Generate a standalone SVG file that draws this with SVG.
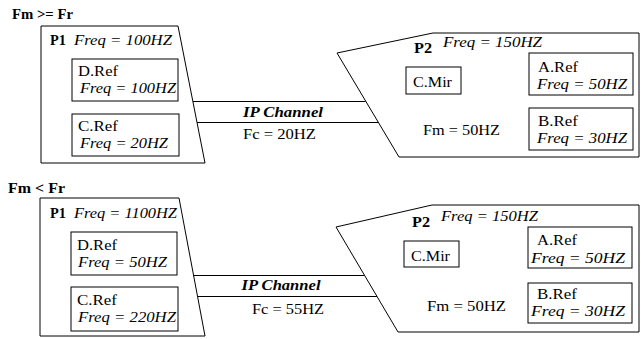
<svg xmlns="http://www.w3.org/2000/svg" width="641" height="339" viewBox="0 0 641 339">
<style>
text{font-family:"Liberation Serif","Times New Roman",serif;font-size:15px;fill:#000}
.b{font-weight:bold}
.i{font-style:italic}
.bi{font-weight:bold;font-style:italic}
.shape{fill:#fff;stroke:#000;stroke-width:1}
.box{fill:#fff;stroke:#000;stroke-width:1}
.ln{stroke:#000;stroke-width:1;fill:none}
</style>
<rect width="641" height="339" fill="#fff"/>

<!-- Top scenario -->
<text class="b" x="12" y="19" textLength="61" lengthAdjust="spacingAndGlyphs">Fm &gt;= Fr</text>

<g id="top-connectors">
  <line class="ln" x1="193" y1="101.5" x2="365.5" y2="101.5"/>
  <line class="ln" x1="197" y1="122.5" x2="378.5" y2="122.5"/>
  <text class="bi" x="283" y="117" text-anchor="middle" textLength="80" lengthAdjust="spacingAndGlyphs">IP Channel</text>
  <text x="243" y="139" textLength="73" lengthAdjust="spacingAndGlyphs">Fc = 20HZ</text>
</g>

<g id="top-P1">
  <polygon class="shape" points="41,26 178,26 205,163 41,163"/>
  <text class="b" x="50" y="45" textLength="16" lengthAdjust="spacingAndGlyphs">P1</text>
  <text class="i" x="74" y="45" textLength="98" lengthAdjust="spacingAndGlyphs">Freq = 100HZ</text>
</g>
<g id="top-DRef">
  <rect class="box" x="72" y="59" width="106" height="42"/>
  <text x="78" y="76" textLength="40" lengthAdjust="spacingAndGlyphs">D.Ref</text>
  <text class="i" x="80" y="93" textLength="96" lengthAdjust="spacingAndGlyphs">Freq = 100HZ</text>
</g>
<g id="top-CRef">
  <rect class="box" x="72" y="114" width="107" height="42"/>
  <text x="78" y="131" textLength="40" lengthAdjust="spacingAndGlyphs">C.Ref</text>
  <text class="i" x="80" y="148" textLength="88" lengthAdjust="spacingAndGlyphs">Freq = 20HZ</text>
</g>

<g id="top-P2">
  <polygon class="shape" points="337,53 433,33 639,33 639,157 399,157"/>
  <text class="b" x="414" y="53" textLength="18" lengthAdjust="spacingAndGlyphs">P2</text>
  <text class="i" x="443" y="47" textLength="99" lengthAdjust="spacingAndGlyphs">Freq = 150HZ</text>
  <text x="423" y="135" textLength="77" lengthAdjust="spacingAndGlyphs">Fm = 50HZ</text>
</g>
<g id="top-CMir">
  <rect class="box" x="406" y="67" width="55" height="27"/>
  <text x="413" y="87" textLength="39" lengthAdjust="spacingAndGlyphs">C.Mir</text>
</g>
<g id="top-ARef">
  <rect class="box" x="529" y="53" width="104" height="42"/>
  <text x="538" y="72" textLength="40" lengthAdjust="spacingAndGlyphs">A.Ref</text>
  <text class="i" x="537" y="89" textLength="90" lengthAdjust="spacingAndGlyphs">Freq = 50HZ</text>
</g>
<g id="top-BRef">
  <rect class="box" x="529" y="108" width="104" height="42"/>
  <text x="538" y="126" textLength="40" lengthAdjust="spacingAndGlyphs">B.Ref</text>
  <text class="i" x="537" y="143" textLength="90" lengthAdjust="spacingAndGlyphs">Freq = 30HZ</text>
</g>

<!-- Bottom scenario -->
<text class="b" x="8" y="193" textLength="57" lengthAdjust="spacingAndGlyphs">Fm &lt; Fr</text>

<g id="bottom-connectors">
  <line class="ln" x1="193.5" y1="275.5" x2="364.5" y2="275.5"/>
  <line class="ln" x1="197.5" y1="296.5" x2="377" y2="296.5"/>
  <text class="bi" x="281" y="290" text-anchor="middle" textLength="79" lengthAdjust="spacingAndGlyphs">IP Channel</text>
  <text x="252" y="314" textLength="72" lengthAdjust="spacingAndGlyphs">Fc = 55HZ</text>
</g>

<g id="bottom-P1">
  <polygon class="shape" points="40,198 179,198 205,336 40,336"/>
  <text class="b" x="50" y="218" textLength="16" lengthAdjust="spacingAndGlyphs">P1</text>
  <text class="i" x="74" y="218" textLength="103" lengthAdjust="spacingAndGlyphs">Freq = 1100HZ</text>
</g>
<g id="bottom-DRef">
  <rect class="box" x="71" y="232" width="106" height="43"/>
  <text x="77" y="250" textLength="40" lengthAdjust="spacingAndGlyphs">D.Ref</text>
  <text class="i" x="78" y="267" textLength="89" lengthAdjust="spacingAndGlyphs">Freq = 50HZ</text>
</g>
<g id="bottom-CRef">
  <rect class="box" x="71" y="287" width="107" height="44"/>
  <text x="77" y="305" textLength="40" lengthAdjust="spacingAndGlyphs">C.Ref</text>
  <text class="i" x="78" y="322" textLength="98" lengthAdjust="spacingAndGlyphs">Freq = 220HZ</text>
</g>

<g id="bottom-P2">
  <polygon class="shape" points="336,227 432,205 639,205 639,332 398,332"/>
  <text class="b" x="412" y="227" textLength="18" lengthAdjust="spacingAndGlyphs">P2</text>
  <text class="i" x="441" y="221" textLength="97" lengthAdjust="spacingAndGlyphs">Freq = 150HZ</text>
  <text x="427" y="311" textLength="79" lengthAdjust="spacingAndGlyphs">Fm = 50HZ</text>
</g>
<g id="bottom-CMir">
  <rect class="box" x="404" y="241" width="55" height="26"/>
  <text x="411" y="261" textLength="39" lengthAdjust="spacingAndGlyphs">C.Mir</text>
</g>
<g id="bottom-ARef">
  <rect class="box" x="528" y="227" width="104" height="41"/>
  <text x="537" y="245" textLength="40" lengthAdjust="spacingAndGlyphs">A.Ref</text>
  <text class="i" x="531" y="263" textLength="94" lengthAdjust="spacingAndGlyphs">Freq = 50HZ</text>
</g>
<g id="bottom-BRef">
  <rect class="box" x="528" y="283" width="104" height="40"/>
  <text x="537" y="299" textLength="40" lengthAdjust="spacingAndGlyphs">B.Ref</text>
  <text class="i" x="531" y="316" textLength="94" lengthAdjust="spacingAndGlyphs">Freq = 30HZ</text>
</g>
</svg>
